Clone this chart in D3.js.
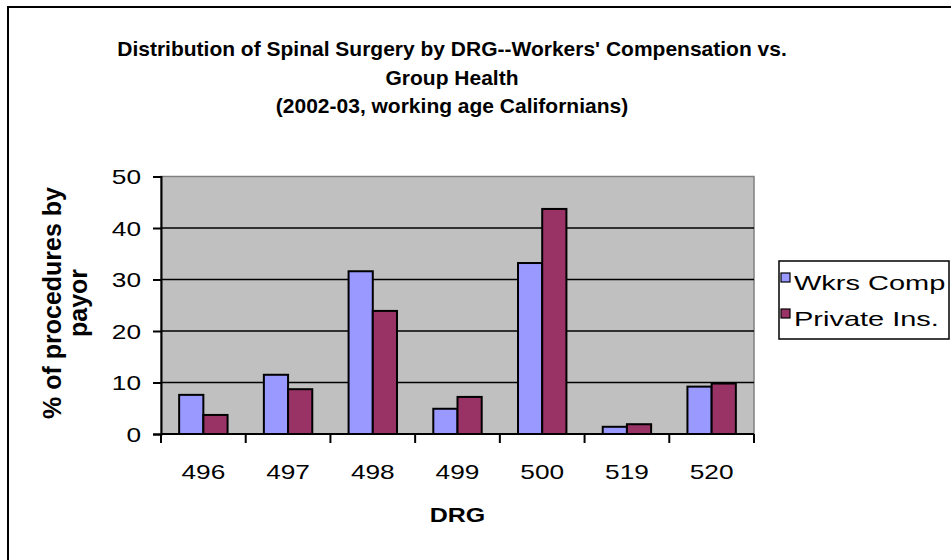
<!DOCTYPE html>
<html>
<head>
<meta charset="utf-8">
<script src="https://cdn.jsdelivr.net/npm/d3@7"></script>
<style>
  body { margin: 0; background: #fff; }
  text { font-family: "Liberation Sans", Arial, sans-serif; fill: #000; }
</style>
</head>
<body>
<div id="chart"></div>
<script>
const drgs = ['496', '497', '498', '499', '500', '519', '520']
const wkrsComp = [7.6, 11.5, 31.6, 4.9, 33.2, 1.4, 9.2]
const privateIns = [3.7, 8.7, 23.9, 7.2, 43.7, 1.9, 9.8]
const seriesNames = ['Wkrs Comp', 'Private Ins.']
const seriesColors = ['#9999ff', '#993366']
const yTicks = [0, 10, 20, 30, 40, 50]
const titleLines = [
  "Distribution of Spinal Surgery by DRG--Workers' Compensation vs.",
  'Group Health',
  '(2002-03, working age Californians)'
]

const width = 951
const height = 560
const plot = { left: 161, right: 754, top: 176.5, bottom: 434 }
// the source picture is stretched sideways, so the horizontal text is too
const stretch = 1.25

const svg = d3.select('#chart')
  .append('svg')
  .attr('width', width)
  .attr('height', height)

// puts a text at (x, y) widened by k
function wideText (sel, x, y, k) {
  return sel.attr('transform', `translate(${x},${y}) scale(${k},1)`)
}

// chart frame (only top and left edges fall inside the picture)
svg.append('path')
  .attr('d', `M8,${height} L8,7 L${width},7`)
  .attr('fill', 'none')
  .attr('stroke', '#000')
  .attr('stroke-width', 2)

const x = d3.scaleBand()
  .domain(drgs)
  .range([plot.left, plot.right])

// gap width 150% like excel: band = 2 bars + 1.5 bar
const barW = x.bandwidth() / 3.5
const xSeries = d3.scaleBand()
  .domain(seriesNames)
  .range([0, barW * 2])

const y = d3.scaleLinear()
  .domain([0, 50])
  .range([plot.bottom, plot.top])

// plot background
svg.append('rect')
  .attr('x', plot.left)
  .attr('y', plot.top)
  .attr('width', plot.right - plot.left)
  .attr('height', plot.bottom - plot.top)
  .attr('fill', '#c0c0c0')
  .attr('stroke', '#808080')
  .attr('stroke-width', 1.5)

// gridlines
svg.selectAll('.grid')
  .data(yTicks.filter(d => d > 0 && d < 50))
  .enter()
  .append('line')
  .attr('class', 'grid')
  .attr('x1', plot.left)
  .attr('x2', plot.right)
  .attr('y1', d => y(d))
  .attr('y2', d => y(d))
  .attr('stroke', '#000')
  .attr('stroke-width', 1.5)

// bars
const rows = drgs.map((d, i) => ({ drg: d, values: [wkrsComp[i], privateIns[i]] }))

const groups = svg.selectAll('.group')
  .data(rows)
  .enter()
  .append('g')
  .attr('class', 'group')
  .attr('transform', d => `translate(${x(d.drg) + (x.bandwidth() - barW * 2) / 2},0)`)

groups.selectAll('rect')
  .data(d => d.values.map((v, i) => ({ name: seriesNames[i], value: v, color: seriesColors[i] })))
  .enter()
  .append('rect')
  .attr('x', d => xSeries(d.name))
  .attr('y', d => y(d.value))
  .attr('width', xSeries.bandwidth())
  .attr('height', d => y(0) - y(d.value))
  .attr('fill', d => d.color)
  .attr('stroke', '#000')
  .attr('stroke-width', 2)

// y axis
const yAxis = svg.append('g')
  .attr('transform', `translate(${plot.left},0)`)
  .call(d3.axisLeft(y).tickValues(yTicks).tickSize(8))
yAxis.selectAll('line, path').attr('stroke', '#000').attr('stroke-width', 2)
yAxis.selectAll('text')
  .attr('x', 0)
  .attr('dy', '0.35em')
  .attr('font-size', 21)
  .style('font-family', '"Liberation Sans", Arial, sans-serif')
  .each(function () { wideText(d3.select(this), -20, 0, stretch) })

// x axis with ticks between categories
const xAxisG = svg.append('g')
  .attr('transform', `translate(0,${plot.bottom})`)
xAxisG.append('line')
  .attr('x1', plot.left)
  .attr('x2', plot.right)
  .attr('stroke', '#000')
  .attr('stroke-width', 2)
xAxisG.selectAll('.tick')
  .data(drgs.concat(['end']))
  .enter()
  .append('line')
  .attr('x1', (d, i) => i < drgs.length ? x(d) : plot.right)
  .attr('x2', (d, i) => i < drgs.length ? x(d) : plot.right)
  .attr('y1', 0)
  .attr('y2', 9)
  .attr('stroke', '#000')
  .attr('stroke-width', 2)
xAxisG.selectAll('.xlabel')
  .data(drgs)
  .enter()
  .append('text')
  .attr('text-anchor', 'middle')
  .attr('font-size', 21)
  .text(d => d)
  .each(function (d) { wideText(d3.select(this), x(d) + x.bandwidth() / 2, 44.5, stretch) })

// axis titles
wideText(svg.append('text'), (plot.left + plot.right) / 2, 522, stretch)
  .attr('text-anchor', 'middle')
  .attr('font-size', 20)
  .attr('font-weight', 'bold')
  .text('DRG')

const yTitle = svg.append('text')
  .attr('transform', 'translate(61,303) rotate(-90)')
  .attr('text-anchor', 'middle')
  .attr('font-size', 25)
  .attr('font-weight', 'bold')
yTitle.append('tspan').attr('x', 0).attr('y', 0).text('% of procedures by')
yTitle.append('tspan').attr('x', 0).attr('y', 26).text('payor')

// chart title
svg.selectAll('.title')
  .data(titleLines)
  .enter()
  .append('text')
  .attr('class', 'title')
  .attr('text-anchor', 'middle')
  .attr('font-size', 20)
  .attr('font-weight', 'bold')
  .text(d => d)
  .each(function (d, i) { wideText(d3.select(this), 452, 56 + i * 28.5, 1.05) })

// legend
svg.append('rect')
  .attr('x', 779)
  .attr('y', 261)
  .attr('width', 170)
  .attr('height', 78)
  .attr('fill', '#fff')
  .attr('stroke', '#000')
  .attr('stroke-width', 1.5)

const items = svg.selectAll('.item')
  .data(seriesNames)
  .enter()
  .append('g')
  .attr('class', 'item')
  .attr('transform', (d, i) => `translate(781,${273 + i * 36})`)
items.append('rect')
  .attr('width', 9)
  .attr('height', 9)
  .attr('fill', (d, i) => seriesColors[i])
  .attr('stroke', '#000')
  .attr('stroke-width', 1.2)
items.append('text')
  .attr('font-size', 21)
  .text(d => d)
  .each(function () { wideText(d3.select(this), 13, 16.5, 1.38) })
</script>
</body>
</html>
